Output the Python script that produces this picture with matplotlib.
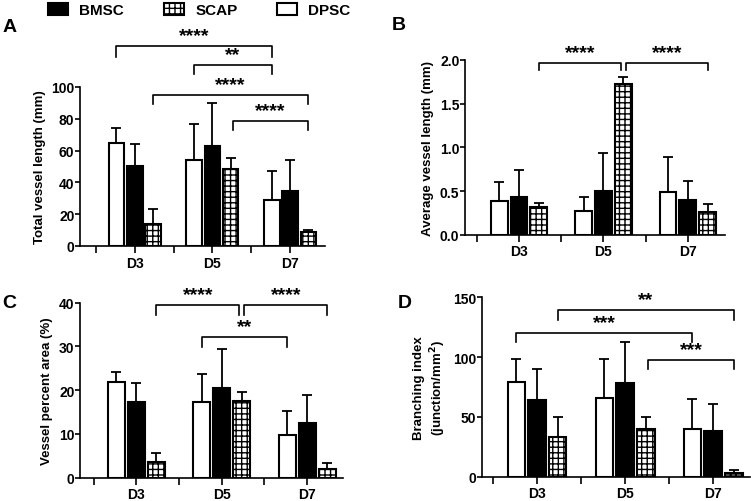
import matplotlib
matplotlib.use('Agg')
import matplotlib.pyplot as plt
from matplotlib.patches import Patch
import numpy as np

plt.rcParams['font.family'] = ['Liberation Sans', 'DejaVu Sans']
plt.rcParams['font.weight'] = 'bold'
plt.rcParams['axes.labelweight'] = 'bold'
plt.rcParams['hatch.linewidth'] = 1.0
plt.rcParams['hatch.color'] = 'black'

# ---------------- data ----------------
groups = ['D3', 'D5', 'D7']
series = ['DPSC', 'BMSC', 'SCAP']
tick_labels = ['', 'D3', '', 'D5', '', 'D7']

# Panel A: Total vessel length (mm)
a_dpsc = [65.0, 54.2, 29.0]
a_dpsc_top = [74.3, 77.0, 46.9]
a_bmsc = [50.4, 63.0, 34.7]
a_bmsc_top = [64.4, 90.0, 54.4]
a_scap = [13.8, 48.7, 8.6]
a_scap_top = [23.2, 55.4, 10.3]

# Panel B: Average vessel length (mm)
b_dpsc = [0.39, 0.275, 0.49]
b_dpsc_top = [0.60, 0.43, 0.89]
b_bmsc = [0.43, 0.50, 0.40]
b_bmsc_top = [0.74, 0.935, 0.61]
b_scap = [0.32, 1.725, 0.255]
b_scap_top = [0.36, 1.81, 0.35]

# Panel C: Vessel percent area (%)
c_dpsc = [21.8, 17.3, 9.75]
c_dpsc_top = [24.2, 23.8, 15.2]
c_bmsc = [17.4, 20.6, 12.5]
c_bmsc_top = [21.6, 29.4, 18.9]
c_scap = [3.6, 17.6, 2.1]
c_scap_top = [5.6, 19.7, 3.3]

# Panel D: Branching index (junction/mm2)
d_dpsc = [79.5, 65.5, 39.9]
d_dpsc_top = [98.1, 98.1, 64.7]
d_bmsc = [64.1, 78.6, 38.5]
d_bmsc_top = [90.0, 112.9, 60.8]
d_scap = [33.5, 40.1, 3.3]
d_scap_top = [50.2, 49.6, 5.6]

# significance brackets: (group1, series1, group2, series2, line y, end y, label)
a_sig = [(0, 0, 2, 0, 125.8, 118.9, '****'),
         (1, 0, 2, 0, 113.8, 108.0, '**'),
         (0, 2, 2, 2, 95.0, 89.0, '****'),
         (1, 2, 2, 2, 78.6, 73.0, '****')]
b_sig = [(0, 2, 1, 2, 1.97, 1.88, '****'),
         (1, 2, 2, 2, 1.97, 1.88, '****')]
c_sig = [(0, 2, 1, 2, 39.4, 37.3, '****'),
         (1, 2, 2, 2, 39.4, 37.3, '****'),
         (1, 0, 2, 0, 32.1, 29.9, '**')]
d_sig = [(0, 2, 2, 2, 139.4, 131.0, '**'),
         (0, 0, 2, 0, 120.4, 112.4, '***'),
         (1, 2, 2, 2, 97.6, 90.0, '***')]

# ---------------- drawing ----------------
fig = plt.figure(figsize=(7.51, 5.02), dpi=100)

styles = {
    'DPSC': dict(facecolor='white', hatch=None),
    'BMSC': dict(facecolor='black', hatch=None),
    'SCAP': dict(facecolor='white', hatch='+++'),
}
offsets = [-0.235, 0.0, 0.235]
bw = 0.2


def panel(rect, xlim, ylim, yticks, yticklabels, ylabel, means, tops, sig, letter, letter_xy,
          ylab_size=9.5):
    ax = fig.add_axes(rect)
    x = np.arange(len(groups))
    for i, s in enumerate(series):
        m = np.array(means[i])
        t = np.array(tops[i])
        st = styles[s]
        ax.bar(x + offsets[i], m, bw, facecolor=st['facecolor'], edgecolor='black',
               linewidth=1.5, hatch=st['hatch'], zorder=3)
        ax.errorbar(x + offsets[i], m, yerr=[np.zeros_like(m), t - m], fmt='none',
                    ecolor='black', elinewidth=1.3, capsize=3.5, capthick=1.3, zorder=2)
    ax.set_xlim(*xlim)
    ax.set_ylim(*ylim)
    ax.set_yticks(yticks)
    ax.set_yticklabels(yticklabels)
    ax.set_xticks([-0.5, 0, 0.5, 1, 1.5, 2])
    ax.set_xticklabels(tick_labels)
    ax.tick_params(axis='y', direction='out', length=3.5, width=1.2, labelsize=10, pad=0.5)
    ax.tick_params(axis='x', direction='out', length=5, width=1.2, labelsize=10, pad=2)
    for lab in ax.get_xticklabels() + ax.get_yticklabels():
        lab.set_fontweight('bold')
    for sp in ['top', 'right']:
        ax.spines[sp].set_visible(False)
    for sp in ['left', 'bottom']:
        ax.spines[sp].set_linewidth(1.2)
    ax.set_ylabel(ylabel, fontsize=ylab_size, fontweight='bold', labelpad=4)
    for g1, s1, g2, s2, yl, ye, lab in sig:
        x1 = g1 + offsets[s1]
        x2 = g2 + offsets[s2]
        if g1 == 1 and s1 == 2 and g2 == 2:
            x1 += 0.03
        if g1 == 0 and g2 == 1 and s2 == 2:
            x2 -= 0.03
        ax.plot([x1, x1, x2, x2], [ye, yl, yl, ye], color='black', lw=1.2,
                clip_on=False, zorder=4)
        ax.annotate(lab, xy=((x1 + x2) / 2, yl), xytext=(0, 7.5), textcoords='offset points',
                    ha='center', va='center', fontsize=14, fontweight='bold',
                    annotation_clip=False)
    fig.text(letter_xy[0] / 751, 1 - letter_xy[1] / 502, letter, fontsize=14,
             fontweight='bold', ha='left', va='baseline')
    return ax


W, H = 751, 502


def rect(l, r, b, t):
    return [l / W, 1 - b / H, (r - l) / W, (b - t) / H]


panel(rect(80, 325, 247, 88), (-0.705, 2.45), (0, 100), [0, 20, 40, 60, 80, 100],
      ['0', '20', '40', '60', '80', '100'], 'Total vessel length (mm)',
      [a_dpsc, a_bmsc, a_scap], [a_dpsc_top, a_bmsc_top, a_scap_top], a_sig, 'A', (3, 32))

panel(rect(465, 725, 235.7, 61), (-0.64, 2.44), (0, 2.0), [0, 0.5, 1.0, 1.5, 2.0],
      ['0.0', '0.5', '1.0', '1.5', '2.0'], 'Average vessel length (mm)',
      [b_dpsc, b_bmsc, b_scap], [b_dpsc_top, b_bmsc_top, b_scap_top], b_sig, 'B', (392, 30))

panel(rect(80, 343, 478.7, 303.7), (-0.66, 2.42), (0, 40), [0, 10, 20, 30, 40],
      ['0', '10', '20', '30', '40'], 'Vessel percent area (%)',
      [c_dpsc, c_bmsc, c_scap], [c_dpsc_top, c_bmsc_top, c_scap_top], c_sig, 'C', (2, 308))

panel(rect(482, 750, 477.7, 298.3), (-0.625, 2.42), (0, 150), [0, 50, 100, 150],
      ['0', '50', '100', '150'], 'Branching index\n(junction/mm$^\\mathbf{2}$)',
      [d_dpsc, d_bmsc, d_scap], [d_dpsc_top, d_bmsc_top, d_scap_top], d_sig, 'D', (398, 308))

handles = [Patch(facecolor='black', edgecolor='black', linewidth=1.5),
           Patch(facecolor='white', edgecolor='black', hatch='+++', linewidth=1.5),
           Patch(facecolor='white', edgecolor='black', linewidth=1.5)]
fig.legend(handles, ['BMSC', 'SCAP', 'DPSC'], loc='center left',
           bbox_to_anchor=(48 / W, 1 - 11 / H), ncol=3, frameon=False,
           borderpad=0, borderaxespad=0, handlelength=1.3, handleheight=0.9,
           handletextpad=0.75, columnspacing=2.6,
           prop={'weight': 'bold', 'size': 11})

fig.savefig('out.png', dpi=100)
